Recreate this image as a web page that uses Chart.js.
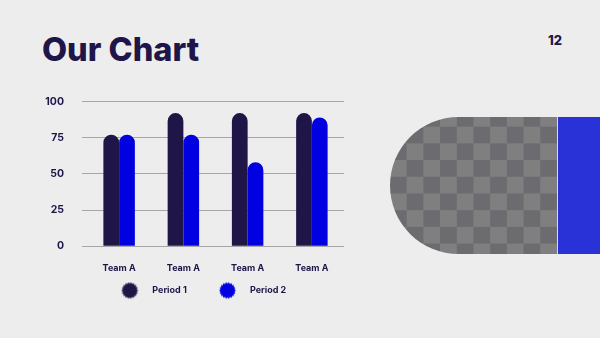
<!DOCTYPE html>
<html>
<head>
<meta charset="utf-8">
<script src="https://cdn.jsdelivr.net/npm/chart.js@4"></script>
<style>
  html, body { margin: 0; padding: 0; }
  body { width: 600px; height: 338px; background: #ededed; position: relative; overflow: hidden; font-family: Inter, sans-serif; }
  #title { position: absolute; left: 42px; top: 30px; font-size: 32.5px; font-weight: 800; color: #1e1548; letter-spacing: 0px; }
  #page { position: absolute; left: 548px; top: 32px; font-size: 13px; font-weight: 800; color: #1e1548; }
  #photo { position: absolute; left: 390px; top: 117px; width: 167px; height: 137px; border-radius: 68.5px 0 0 68.5px;
    background: repeating-conic-gradient(#7f7f80 0 25%, #6c6c70 0 50%); background-size: 33.4px 33.4px; background-position: 0 -7px; }
  #accent { position: absolute; left: 557px; top: 117px; width: 43px; height: 137px; background: #2832d6; border-left: 1px solid #d6d8ee; box-sizing: border-box; }
  #wrap { position: absolute; left: 30px; top: 85px; width: 327px; height: 220px; }
</style>
</head>
<body>
<div id="title">Our Chart</div>
<div id="page">12</div>
<div id="photo"></div>
<div id="accent"></div>
<div id="wrap"><canvas id="chart"></canvas></div>
<script>
const categories = ["Team A", "Team A", "Team A", "Team A"];
const period1 = [77, 92, 92, 92];
const period2 = [77, 77, 58, 89];
const yTicks = [0, 25, 50, 75, 100];

const navy = "#201547";
const blue = "#0000e0";
const textColor = "#1e1548";
const font = { family: "Inter, sans-serif", weight: "bold" };

// legend marker: serrated badge, drawn a bit right of the image centre
// so it sits close to its label
const markerWidth = 47;
function badge(color) {
  const c = document.createElement("canvas");
  c.width = 40; c.height = 18;
  const g = c.getContext("2d");
  const cx = 20 + (markerWidth / 2 - 18), cy = 9;
  const teeth = 18;
  g.beginPath();
  for (let i = 0; i < teeth * 2; i++) {
    const r = i % 2 === 0 ? 8.5 : 7;
    const a = (Math.PI * i) / teeth;
    g.lineTo(cx + r * Math.cos(a), cy + r * Math.sin(a));
  }
  g.closePath();
  g.fillStyle = color;
  g.fill();
  return c;
}

new Chart(document.getElementById("chart"), {
  type: "bar",
  data: {
    labels: categories,
    datasets: [
      { label: "Period 1", data: period1, backgroundColor: navy, pointStyle: badge(navy) },
      { label: "Period 2", data: period2, backgroundColor: blue, pointStyle: badge(blue) }
    ]
  },
  options: {
    responsive: true,
    maintainAspectRatio: false,
    animation: false,
    layout: { padding: { top: 16.5, left: 0, right: 0, bottom: 0 } },
    datasets: {
      bar: { categoryPercentage: 0.49, barPercentage: 1, borderRadius: 8, borderSkipped: "start" }
    },
    scales: {
      x: {
        grid: { display: false, drawTicks: false },
        border: { display: false },
        ticks: { color: textColor, font: { ...font, size: 9 }, padding: 17 },
        afterFit(scale) { scale.height = 28; }
      },
      y: {
        min: 0,
        max: 100,
        afterBuildTicks(scale) { scale.ticks = yTicks.map(v => ({ value: v })); },
        grid: { color: "#a6a6a6", lineWidth: 1, tickLength: 5 },
        border: { display: false },
        ticks: { color: textColor, font: { ...font, size: 10.5 }, padding: 18 },
        afterFit(scale) {
          scale.width = 57;
          // tick padding is meant horizontally only
          scale.paddingTop = 0;
          scale.paddingBottom = 0;
        }
      },
      // empty spacer on the right, keeps the legend centred where it is in the slide
      spacer: {
        type: "linear",
        position: "right",
        grid: { display: false },
        border: { display: false },
        ticks: { display: false },
        afterFit(scale) { scale.width = 13; scale.paddingTop = 0; scale.paddingBottom = 0; }
      }
    },
    plugins: {
      tooltip: { enabled: false },
      legend: {
        position: "bottom",
        labels: {
          usePointStyle: true,
          pointStyleWidth: markerWidth,
          padding: 11.7,
          color: textColor,
          font: { ...font, size: 9 }
        }
      }
    }
  }
});
</script>
</body>
</html>
